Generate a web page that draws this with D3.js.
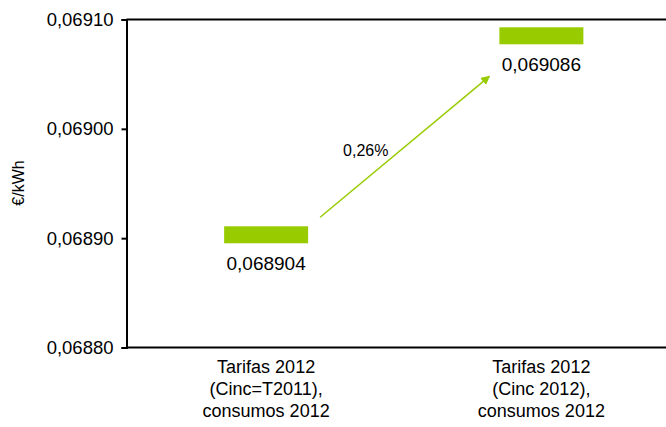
<!DOCTYPE html>
<html><head><meta charset="utf-8">
<script src="https://cdn.jsdelivr.net/npm/d3@7"></script>
<style>body{margin:0;background:#fff}svg{display:block;font-family:"Liberation Sans",Arial,sans-serif}</style>
</head><body>
<svg id="c" width="666" height="427"></svg>
<script>
const categories = [
  ["Tarifas 2012", "(Cinc=T2011),", "consumos 2012"],
  ["Tarifas 2012", "(Cinc 2012),", "consumos 2012"]
];
const values = [0.068904, 0.069086];
const valueLabels = ["0,068904", "0,069086"];
const yTicks = [0.0688, 0.0689, 0.0690, 0.0691];
const yTickLabels = ["0,06880", "0,06890", "0,06900", "0,06910"];
const changeLabel = "0,26%";
const yTitle = "€/kWh";

const green = "#99cc00";
const svg = d3.select("#c");
const mLeft = 126.5, mTop = 19.5, mBottom = 347.5;
const x = d3.scaleBand().domain(d3.range(categories.length)).range([mLeft + 2, 679]);
const y = d3.scaleLinear().domain([0.0688, 0.0691]).range([mBottom, mTop]);

// frame lines
svg.append("line").attr("x1", mLeft).attr("x2", 666).attr("y1", mTop).attr("y2", mTop).attr("stroke", "#000").attr("stroke-width", 2);
svg.append("line").attr("x1", mLeft).attr("x2", 666).attr("y1", mBottom).attr("y2", mBottom).attr("stroke", "#000").attr("stroke-width", 2);

const yAxis = d3.axisLeft(y).tickValues(yTicks).tickFormat((d, i) => yTickLabels[i]).tickSize(5).tickPadding(8);
const ga = svg.append("g").attr("transform", `translate(${mLeft},0)`).call(yAxis);
ga.select(".domain").attr("stroke", "#000").attr("stroke-width", 2);
ga.selectAll(".tick line").attr("stroke", "#000").attr("stroke-width", 2);
ga.selectAll(".tick text").attr("font-size", 18.5).attr("fill", "#000").attr("font-family", "Liberation Sans, Arial, sans-serif");

svg.append("text").attr("transform", `translate(24,183) rotate(-90)`).attr("text-anchor", "middle")
  .attr("font-size", 16).text(yTitle);

// bars (floating markers)
const bw = 84, bh = 17;
svg.selectAll("rect.bar").data(values).join("rect").attr("class", "bar")
  .attr("x", (d, i) => x(i) + x.bandwidth() / 2 - bw / 2)
  .attr("y", d => y(d) - bh / 2 + 1)
  .attr("width", bw).attr("height", bh).attr("fill", green);

svg.selectAll("text.val").data(values).join("text").attr("class", "val")
  .attr("x", (d, i) => x(i) + x.bandwidth() / 2)
  .attr("y", d => y(d) + bh / 2 + 28)
  .attr("text-anchor", "middle").attr("font-size", 19).text((d, i) => valueLabels[i]);

// category labels
categories.forEach((lines, i) => {
  const t = svg.append("text").attr("text-anchor", "middle").attr("font-size", 18);
  lines.forEach((l, j) => t.append("tspan").attr("x", x(i) + x.bandwidth() / 2).attr("y", 373 + j * 22).text(l));
});

// arrow
svg.append("defs").append("marker").attr("id", "ah").attr("viewBox", "0 0 10 10").attr("refX", 9).attr("refY", 5)
  .attr("markerWidth", 6).attr("markerHeight", 6).attr("orient", "auto")
  .append("path").attr("d", "M0,0L10,5L0,10Z").attr("fill", green);
const x1 = x(0) + x.bandwidth() / 2 + bw / 2 + 12, y1 = y(values[0]) - bh / 2 - 8;
const x2 = x(1) + x.bandwidth() / 2 - bw / 2 - 10, y2 = y(values[1]) + bh / 2 + 33;
svg.append("line").attr("x1", x1).attr("y1", y1).attr("x2", x2).attr("y2", y2)
  .attr("stroke", green).attr("stroke-width", 1.5).attr("marker-end", "url(#ah)");
svg.append("text").attr("x", (x1 + x2) / 2 - 39).attr("y", (y1 + y2) / 2 + 9).attr("text-anchor", "middle")
  .attr("font-size", 16).text(changeLabel);
</script>
</body></html>
